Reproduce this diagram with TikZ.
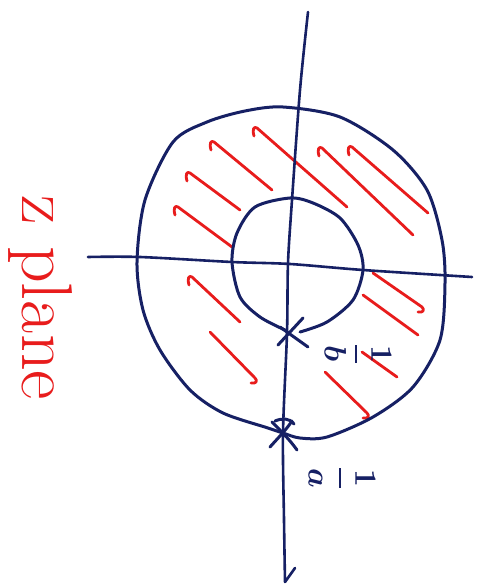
\documentclass[tikz,border=0pt]{standalone}
\usepackage{graphicx}
\definecolor{inkblue}{RGB}{22,32,100}
\definecolor{inkred}{RGB}{232,28,28}
\newcommand\redhatchhook[4]{\draw[redink] (#1-1,#2+8) .. controls (#1-3,#2+1) and (#1-1,#2-2) .. (#1+2,#2) -- (#3,#4);}
\newcommand\redhatchend[4]{\draw[redink] (#1,#2) -- (#3,#4) .. controls (#3+3,#4+3) and (#3+1,#4+6) .. (#3-4,#4+5);}
\newcommand\bigfrac[1]{\scalebox{3.1}{\boldmath$\displaystyle\frac{1}{#1}$}}
\begin{document}
\begin{tikzpicture}[x=1pt,y=-1pt,
  blueink/.style={draw=inkblue,line width=3pt,line cap=round,line join=round},
  redink/.style={draw=inkred,line width=2.8pt,line cap=round,line join=round},
  ptlabel/.style={rotate=-90,text=inkblue,inner sep=0}]
\useasboundingbox (0,0) rectangle (494,585);
\fill[white] (0,0) rectangle (494,585);

% red hatching
\redhatchhook{255}{128}{347}{207}
\redhatchhook{212}{142}{272}{190}
\redhatchhook{188}{173}{240}{210}
\redhatchhook{320}{148}{413}{235}
\redhatchhook{350}{147}{428}{213}
\redhatchhook{176}{207}{232}{247}
\redhatchhook{190}{277}{240}{322}
\redhatchend{210}{332}{255}{378}
\redhatchend{373}{273}{422}{307}
\draw[redink] (363,295) -- (418,335);
\draw[redink] (362,352) -- (397,377);
\redhatchend{325}{372}{367}{413}

% axes
\draw[blueink,line width=2.6pt] plot[smooth] coordinates {(308,12) (300,90) (292,200) (288,263) (287,333) (283,433) (284,520) (285,582)} -- (295,568);
\draw[blueink,line width=2.6pt] plot[smooth] coordinates {(88,257) (140,257) (232,262) (290,264) (363,270) (472,277)};

% outer circle
\draw[blueink] plot[smooth cycle] coordinates {(283,433) (268,428) (223,413) (190,390) (160,350) (143,310) (137,262) (145,200) (173,142) (207,122) (245,111) (283,107) (340,117) (393,150) (427,190) (442,240) (445,283) (440,340) (413,387) (373,417) (327,437) (300,438)};

% inner circle
\draw[blueink] plot[smooth] coordinates {(285,330) (260,317) (240,297) (232,262) (237,233) (255,207) (290,198) (313,203) (340,218) (358,245) (363,270) (353,300) (327,322) (300,332)};

% crosses
\coordinate (p1) at (289,332);
\coordinate (p2) at (283,434);
\draw[blueink] (278,345) -- (303,318);
\draw[blueink] (280,327) -- (308,347);
\draw[blueink] (270,447) .. controls (278,438) and (286,430) .. (292,421);
\draw[blueink] (272,422) .. controls (280,430) and (290,440) .. (297,450);
\draw[blueink] (275,421) .. controls (282,418) and (290,418) .. (294,424);

% labels
\node[ptlabel] (lb) at (358,354) {\bigfrac{b}};
\node[ptlabel] (la) at (342,478) {\bigfrac{a}};
\node[rotate=-90,anchor=base west,inner sep=0,text=inkred,font=\fontsize{72}{72}\selectfont] (zp) at (22,195) {z plane};
\end{tikzpicture}
\end{document}
